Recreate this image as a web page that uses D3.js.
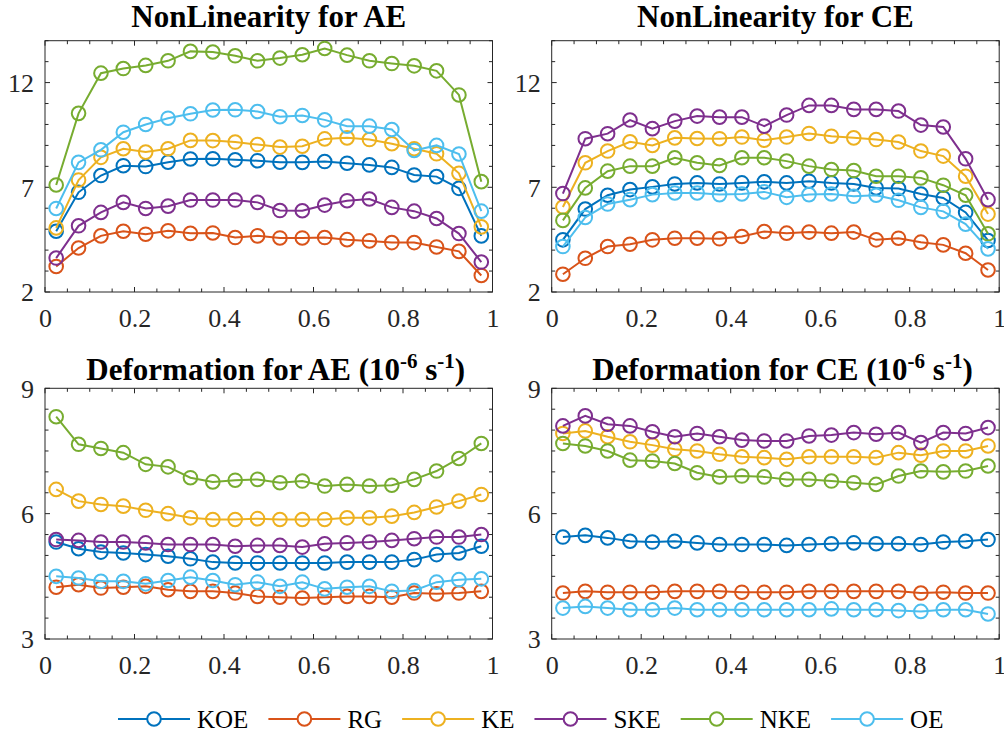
<!DOCTYPE html>
<html>
<head>
<meta charset="utf-8">
<script src="https://cdn.jsdelivr.net/npm/d3@7"></script>
<style>
  html, body { margin: 0; padding: 0; background: #fff; }
  svg { display: block; }
</style>
</head>
<body>
<svg id="chart" width="1004" height="732"></svg>
<script>
// Sample positions along the normalized coordinate
const xValues = [0.025, 0.075, 0.125, 0.175, 0.225, 0.275, 0.325, 0.375, 0.425, 0.475,
                 0.525, 0.575, 0.625, 0.675, 0.725, 0.775, 0.825, 0.875, 0.925, 0.975];

const seriesNames = ["KOE", "RG", "KE", "SKE", "NKE", "OE"];
const seriesColors = ["#0072BD", "#D95319", "#EDB120", "#7E2F8E", "#77AC30", "#4DBEEE"];

const xTicks = [0, 0.2, 0.4, 0.6, 0.8, 1];
const nonlinTicks = [2, 7, 12];
const deformTicks = [3, 6, 9];

// NonLinearity for AE
const nlAE_KOE = [4.90, 6.76, 7.56, 8.03, 7.99, 8.20, 8.35, 8.36, 8.31, 8.27, 8.20, 8.19, 8.23, 8.15, 8.07, 7.95, 7.59, 7.51, 6.95, 4.68];
const nlAE_RG  = [3.22, 4.10, 4.68, 4.90, 4.76, 4.92, 4.80, 4.82, 4.60, 4.68, 4.58, 4.58, 4.60, 4.50, 4.44, 4.36, 4.36, 4.15, 3.94, 2.79];
const nlAE_KE  = [5.06, 7.35, 8.43, 8.84, 8.68, 8.84, 9.24, 9.23, 9.16, 9.04, 8.92, 8.96, 9.31, 9.36, 9.28, 9.08, 8.84, 8.60, 7.67, 5.11];
const nlAE_SKE = [3.62, 5.16, 5.80, 6.28, 5.99, 6.10, 6.39, 6.39, 6.39, 6.28, 5.89, 5.88, 6.15, 6.36, 6.44, 6.04, 5.86, 5.51, 4.79, 3.43];
const nlAE_NKE = [7.11, 10.53, 12.45, 12.67, 12.82, 13.04, 13.49, 13.46, 13.28, 13.04, 13.17, 13.33, 13.63, 13.31, 13.04, 12.91, 12.80, 12.56, 11.41, 7.27];
const nlAE_OE  = [5.99, 8.19, 8.79, 9.63, 10.00, 10.30, 10.51, 10.69, 10.70, 10.62, 10.37, 10.43, 10.22, 9.92, 9.92, 9.76, 8.76, 9.00, 8.59, 5.86];

// NonLinearity for CE
const nlCE_KOE = [4.49, 5.96, 6.62, 6.89, 7.02, 7.16, 7.21, 7.16, 7.21, 7.26, 7.21, 7.29, 7.21, 7.16, 6.97, 6.94, 6.68, 6.49, 5.80, 4.46];
const nlCE_RG  = [2.85, 3.61, 4.17, 4.28, 4.49, 4.57, 4.57, 4.54, 4.65, 4.89, 4.81, 4.86, 4.81, 4.86, 4.49, 4.57, 4.38, 4.25, 3.85, 3.05];
const nlCE_KE  = [6.06, 8.17, 8.73, 9.17, 9.00, 9.36, 9.33, 9.32, 9.40, 9.25, 9.40, 9.57, 9.44, 9.36, 9.28, 9.16, 8.73, 8.49, 7.53, 5.72];
const nlCE_SKE = [6.70, 9.32, 9.56, 10.21, 9.80, 10.16, 10.40, 10.35, 10.35, 9.92, 10.45, 10.91, 10.91, 10.72, 10.72, 10.64, 9.97, 9.88, 8.36, 6.41];
const nlCE_NKE = [5.42, 6.97, 7.77, 8.01, 8.01, 8.41, 8.17, 8.04, 8.41, 8.41, 8.25, 8.01, 7.85, 7.80, 7.53, 7.53, 7.45, 7.10, 6.62, 4.78];
const nlCE_OE  = [4.17, 5.56, 6.20, 6.41, 6.65, 6.73, 6.73, 6.65, 6.68, 6.78, 6.52, 6.65, 6.68, 6.57, 6.62, 6.38, 6.04, 5.85, 5.24, 4.06];

// Deformation for AE (1e-6 1/s)
const dfAE_KOE = [5.32, 5.16, 5.08, 5.06, 5.02, 4.98, 4.92, 4.84, 4.82, 4.82, 4.82, 4.82, 4.82, 4.84, 4.84, 4.84, 4.90, 5.02, 5.06, 5.22];
const dfAE_RG  = [4.24, 4.30, 4.22, 4.24, 4.26, 4.18, 4.14, 4.14, 4.10, 4.02, 4.00, 3.98, 4.00, 4.02, 4.02, 4.00, 4.10, 4.08, 4.10, 4.14];
const dfAE_KE  = [6.58, 6.30, 6.22, 6.18, 6.08, 6.00, 5.90, 5.86, 5.86, 5.88, 5.86, 5.86, 5.86, 5.90, 5.90, 5.94, 6.03, 6.16, 6.30, 6.46];
const dfAE_SKE = [5.38, 5.36, 5.32, 5.32, 5.30, 5.26, 5.26, 5.26, 5.22, 5.24, 5.24, 5.20, 5.28, 5.30, 5.32, 5.36, 5.40, 5.44, 5.44, 5.50];
const dfAE_NKE = [8.32, 7.66, 7.56, 7.46, 7.18, 7.12, 6.86, 6.76, 6.80, 6.82, 6.74, 6.78, 6.66, 6.70, 6.66, 6.68, 6.82, 7.02, 7.32, 7.68];
const dfAE_OE  = [4.50, 4.46, 4.38, 4.38, 4.32, 4.40, 4.48, 4.40, 4.30, 4.36, 4.26, 4.36, 4.20, 4.24, 4.26, 4.14, 4.16, 4.36, 4.42, 4.44];

// Deformation for CE (1e-6 1/s)
const dfCE_KOE = [5.44, 5.48, 5.42, 5.34, 5.32, 5.34, 5.30, 5.26, 5.26, 5.26, 5.24, 5.26, 5.28, 5.30, 5.28, 5.28, 5.26, 5.32, 5.34, 5.38];
const dfCE_RG  = [4.10, 4.14, 4.12, 4.12, 4.12, 4.14, 4.14, 4.14, 4.12, 4.12, 4.12, 4.14, 4.14, 4.14, 4.14, 4.14, 4.10, 4.12, 4.10, 4.10];
const dfCE_KE  = [7.92, 7.98, 7.84, 7.72, 7.64, 7.54, 7.50, 7.42, 7.36, 7.34, 7.30, 7.36, 7.36, 7.36, 7.34, 7.46, 7.40, 7.50, 7.50, 7.62];
const dfCE_SKE = [8.10, 8.34, 8.14, 8.10, 7.96, 7.84, 7.92, 7.84, 7.76, 7.74, 7.74, 7.86, 7.88, 7.94, 7.90, 7.94, 7.70, 7.94, 7.92, 8.06];
const dfCE_NKE = [7.68, 7.62, 7.50, 7.28, 7.26, 7.20, 6.98, 6.88, 6.90, 6.88, 6.82, 6.82, 6.78, 6.74, 6.70, 6.90, 7.02, 7.00, 7.02, 7.14];
const dfCE_OE  = [3.74, 3.78, 3.74, 3.70, 3.70, 3.74, 3.70, 3.70, 3.70, 3.70, 3.70, 3.70, 3.72, 3.70, 3.70, 3.68, 3.66, 3.70, 3.70, 3.60];

const deformTitle = name => [
  {t: `Deformation for ${name} (10`}, {t: "-6", sup: true}, {t: " s"}, {t: "-1", sup: true}, {t: ")"}
];

const panels = [
  { title: [{t: "NonLinearity for AE"}], left: 45, top: 40.7, bottom: 292, yDomain: [2, 14], yTicks: nonlinTicks, yMinor: 1,
    series: [nlAE_KOE, nlAE_RG, nlAE_KE, nlAE_SKE, nlAE_NKE, nlAE_OE], titleY: 27, titleDx: 0 },
  { title: [{t: "NonLinearity for CE"}], left: 551.7, top: 40.7, bottom: 292, yDomain: [2, 14], yTicks: nonlinTicks, yMinor: 1,
    series: [nlCE_KOE, nlCE_RG, nlCE_KE, nlCE_SKE, nlCE_NKE, nlCE_OE], titleY: 27, titleDx: 0 },
  { title: deformTitle("AE"), left: 45, top: 388.3, bottom: 639, yDomain: [3, 9], yTicks: deformTicks, yMinor: 0.5,
    series: [dfAE_KOE, dfAE_RG, dfAE_KE, dfAE_SKE, dfAE_NKE, dfAE_OE], titleY: 380, titleDx: 7 },
  { title: deformTitle("CE"), left: 551.7, top: 388.3, bottom: 639, yDomain: [3, 9], yTicks: deformTicks, yMinor: 0.5,
    series: [dfCE_KOE, dfCE_RG, dfCE_KE, dfCE_SKE, dfCE_NKE, dfCE_OE], titleY: 380, titleDx: 7 }
];

const axisWidth = 447.5;
const axisColor = "#262626";
const serif = "'Liberation Serif', 'Times New Roman', Times, serif";
const svg = d3.select("#chart");

panels.forEach(p => {
  const x = d3.scaleLinear().domain([0, 1]).range([p.left, p.left + axisWidth]);
  const y = d3.scaleLinear().domain(p.yDomain).range([p.bottom, p.top]);
  const g = svg.append("g");

  // minor + major ticks on all four sides, pointing inward
  const xMinor = d3.range(0, 1.0001, 0.05);
  const yMinor = d3.range(p.yDomain[0], p.yDomain[1] + 1e-6, p.yMinor);
  const tickG = g.append("g").attr("stroke", axisColor).attr("stroke-width", 1);
  xMinor.forEach(v => {
    const isMajor = xTicks.some(t => Math.abs(t - v) < 1e-6);
    const len = isMajor ? 5 : 3.5;
    tickG.append("line").attr("x1", x(v)).attr("x2", x(v)).attr("y1", p.bottom).attr("y2", p.bottom - len);
    tickG.append("line").attr("x1", x(v)).attr("x2", x(v)).attr("y1", p.top).attr("y2", p.top + len);
  });
  yMinor.forEach(v => {
    const isMajor = p.yTicks.some(t => Math.abs(t - v) < 1e-6);
    const len = isMajor ? 5 : 3.5;
    tickG.append("line").attr("y1", y(v)).attr("y2", y(v)).attr("x1", p.left).attr("x2", p.left + len);
    tickG.append("line").attr("y1", y(v)).attr("y2", y(v)).attr("x1", p.left + axisWidth).attr("x2", p.left + axisWidth - len);
  });

  // box
  g.append("rect")
    .attr("x", p.left).attr("y", p.top)
    .attr("width", axisWidth).attr("height", p.bottom - p.top)
    .attr("fill", "none").attr("stroke", axisColor).attr("stroke-width", 1);

  // tick labels via d3 axes
  const xAxis = d3.axisBottom(x).tickValues(xTicks).tickSize(0).tickPadding(0).tickFormat(d3.format("~g"));
  g.append("g").attr("transform", `translate(0,${p.bottom})`).call(xAxis)
    .attr("font-family", null)
    .call(s => s.select(".domain").remove())
    .selectAll("text")
    .attr("dy", null).attr("y", 35)
    .style("font-family", serif).style("font-size", "26px").attr("fill", axisColor);

  const yAxis = d3.axisLeft(y).tickValues(p.yTicks).tickSize(0).tickPadding(11).tickFormat(d3.format("~g"));
  g.append("g").attr("transform", `translate(${p.left},0)`).call(yAxis)
    .attr("font-family", null)
    .call(s => s.select(".domain").remove())
    .selectAll("text")
    .attr("dy", "0.34em")
    .style("font-family", serif).style("font-size", "26px").attr("fill", axisColor);

  // series lines and circle markers
  const line = d3.line().x((d, i) => x(xValues[i])).y(d => y(d));
  p.series.forEach((vals, si) => {
    const c = seriesColors[si];
    const sg = g.append("g");
    sg.append("path").datum(vals).attr("d", line)
      .attr("fill", "none").attr("stroke", c).attr("stroke-width", 2);
    sg.selectAll("circle").data(vals).join("circle")
      .attr("cx", (d, i) => x(xValues[i])).attr("cy", d => y(d)).attr("r", 6.8)
      .attr("fill", "none").attr("stroke", c).attr("stroke-width", 2);
  });

  // title, with raised exponents
  const title = g.append("text")
    .attr("x", p.left + axisWidth / 2 + p.titleDx).attr("y", p.titleY)
    .attr("text-anchor", "middle")
    .style("font-family", serif).style("font-weight", "bold")
    .style("font-size", "31px").attr("fill", "#000");
  let shift = 0;
  p.title.forEach(part => {
    const ts = title.append("tspan").text(part.t);
    if (part.sup) {
      ts.style("font-size", "21px").attr("dy", -12 - shift);
      shift = -12;
    } else {
      ts.attr("dy", -shift);
      shift = 0;
    }
  });
});

// legend along the bottom
const legend = svg.append("g").attr("transform", "translate(0,719)");
let lx = 118;
seriesNames.forEach((name, i) => {
  const c = seriesColors[i];
  const item = legend.append("g");
  item.append("line").attr("x1", lx).attr("x2", lx + 72).attr("y1", 0).attr("y2", 0)
    .attr("stroke", c).attr("stroke-width", 2);
  item.append("circle").attr("cx", lx + 36).attr("cy", 0).attr("r", 6.8)
    .attr("fill", "#fff").attr("stroke", c).attr("stroke-width", 2);
  const t = item.append("text").attr("x", lx + 79).attr("y", 8.5)
    .style("font-family", serif).style("font-size", "25px").attr("fill", "#000")
    .text(name);
  lx += 79 + t.node().getComputedTextLength() + 20;
});
</script>
</body>
</html>
